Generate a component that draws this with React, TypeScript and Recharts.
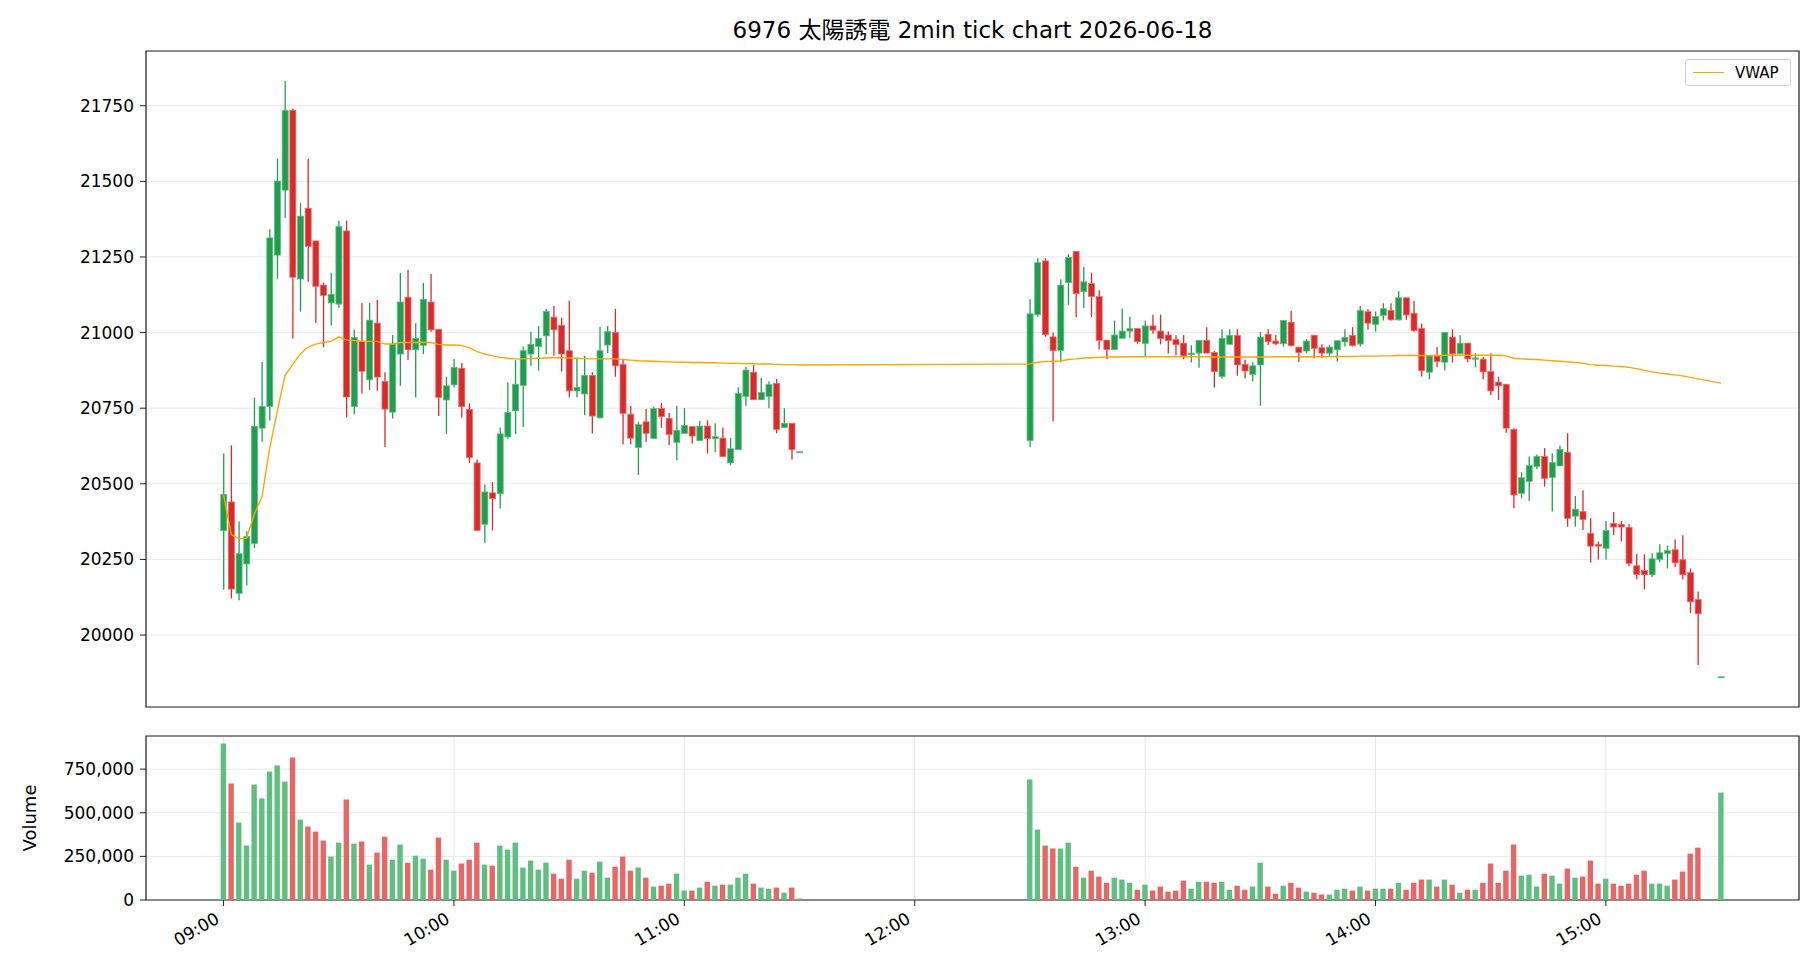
import {
  Bar,
  CartesianGrid,
  Cell,
  ComposedChart,
  Line,
  ReferenceArea,
  XAxis,
  YAxis,
} from "recharts";

const FONT = '"DejaVu Sans", "Noto Sans CJK JP", sans-serif';
const UP = "#1f9e4f";
const UP_EDGE = "#5cbd7d";
const DOWN = "#dc2a2a";
const DOWN_EDGE = "#e86a6a";
const VOL_UP = "#5ebf80";
const VOL_DOWN = "#e86666";
const GRID = "#e8e8e8";

const TITLE = "6976 太陽誘電 2min tick chart 2026-06-18";

// 2-minute slots that traded (morning session, afternoon session, closing print)
const times = [
  "09:00", "09:02", "09:04", "09:06", "09:08", "09:10", "09:12", "09:14", "09:16", "09:18",
  "09:20", "09:22", "09:24", "09:26", "09:28", "09:30", "09:32", "09:34", "09:36", "09:38",
  "09:40", "09:42", "09:44", "09:46", "09:48", "09:50", "09:52", "09:54", "09:56", "09:58",
  "10:00", "10:02", "10:04", "10:06", "10:08", "10:10", "10:12", "10:14", "10:16", "10:18",
  "10:20", "10:22", "10:24", "10:26", "10:28", "10:30", "10:32", "10:34", "10:36", "10:38",
  "10:40", "10:42", "10:44", "10:46", "10:48", "10:50", "10:52", "10:54", "10:56", "10:58",
  "11:00", "11:02", "11:04", "11:06", "11:08", "11:10", "11:12", "11:14", "11:16", "11:18",
  "11:20", "11:22", "11:24", "11:26", "11:28", "11:30",
  "12:30", "12:32", "12:34", "12:36", "12:38", "12:40", "12:42", "12:44", "12:46", "12:48",
  "12:50", "12:52", "12:54", "12:56", "12:58", "13:00", "13:02", "13:04", "13:06", "13:08",
  "13:10", "13:12", "13:14", "13:16", "13:18", "13:20", "13:22", "13:24", "13:26", "13:28",
  "13:30", "13:32", "13:34", "13:36", "13:38", "13:40", "13:42", "13:44", "13:46", "13:48",
  "13:50", "13:52", "13:54", "13:56", "13:58", "14:00", "14:02", "14:04", "14:06", "14:08",
  "14:10", "14:12", "14:14", "14:16", "14:18", "14:20", "14:22", "14:24", "14:26", "14:28",
  "14:30", "14:32", "14:34", "14:36", "14:38", "14:40", "14:42", "14:44", "14:46", "14:48",
  "14:50", "14:52", "14:54", "14:56", "14:58", "15:00", "15:02", "15:04", "15:06", "15:08",
  "15:10", "15:12", "15:14", "15:16", "15:18", "15:20", "15:22", "15:24",
  "15:30",
];

const opens = [
  20345, 20440, 20138, 20235, 20303, 20684, 20756, 21256, 21471, 21735,
  21177, 21411, 21303, 21157, 21098, 21094, 21336, 20756, 20971, 20844,
  21031, 20838, 20737, 20929, 21117, 20943, 20958, 21101, 21011, 20777,
  20827, 20882, 20746, 20569, 20366, 20470, 20467, 20655, 20741, 20825,
  20929, 20954, 20989, 21051, 21024, 20940, 20807, 20797, 20858, 20718,
  20959, 21001, 20895, 20730, 20620, 20705, 20650, 20749, 20716, 20637,
  20667, 20689, 20643, 20691, 20649, 20651, 20569, 20613, 20789, 20869,
  20778, 20789, 20832, 20686, 20700, 20604,
  20643, 21059, 21237, 20986, 20941, 21165, 21268, 21135, 21162, 21119,
  20975, 20944, 20981, 21005, 21013, 20964, 21022, 21005, 20992, 20977,
  20965, 20927, 20932, 20974, 20934, 20855, 20961, 20990, 20895, 20862,
  20893, 20994, 20972, 20963, 21034, 20952, 20939, 20991, 20950, 20932,
  20943, 20969, 20990, 20962, 21069, 21027, 21057, 21073, 21042, 21115,
  21064, 21013, 20869, 20923, 20902, 20985, 20930, 20965, 20912, 20912,
  20871, 20836, 20829, 20680, 20468, 20508, 20557, 20590, 20521, 20559,
  20604, 20393, 20408, 20336, 20300, 20287, 20369, 20366, 20356, 20229,
  20214, 20199, 20250, 20270, 20282, 20249, 20206, 20117,
  19860,
];

const highs = [
  20600, 20627, 20375, 20343, 20785, 20903, 21342, 21575, 21832, 21740,
  21429, 21575, 21303, 21166, 21197, 21370, 21370, 21009, 21098, 21098,
  21108, 20869, 20992, 21197, 21208, 21031, 21164, 21194, 21011, 20853,
  20913, 20899, 20766, 20580, 20498, 20506, 20686, 20835, 20909, 20954,
  21002, 21022, 21078, 21088, 21049, 21105, 20918, 20923, 20869, 21019,
  21022, 21078, 20909, 20757, 20705, 20747, 20755, 20767, 20734, 20757,
  20750, 20689, 20708, 20710, 20700, 20686, 20652, 20819, 20886, 20893,
  20850, 20838, 20847, 20750, 20700, 20606,
  21110, 21246, 21246, 21000, 21176, 21259, 21268, 21218, 21198, 21140,
  20975, 21040, 21080, 21052, 21014, 21040, 21059, 21059, 21004, 20991,
  20992, 20958, 20974, 21018, 20939, 21011, 21011, 21011, 20910, 20902,
  21002, 21011, 20992, 21042, 21072, 20952, 20979, 20991, 20961, 20958,
  20973, 21011, 21018, 21088, 21077, 21070, 21097, 21097, 21137, 21115,
  21104, 21029, 20923, 20952, 21000, 21011, 20991, 20965, 20932, 20919,
  20932, 20854, 20829, 20684, 20538, 20590, 20597, 20618, 20601, 20627,
  20667, 20460, 20479, 20386, 20309, 20377, 20407, 20377, 20367, 20268,
  20267, 20270, 20300, 20296, 20316, 20330, 20220, 20144,
  19862,
];

const lows = [
  20150, 20121, 20115, 20164, 20288, 20639, 20709, 21178, 21379, 20980,
  21069, 21168, 21032, 20951, 21023, 21081, 20719, 20730, 20798, 20810,
  20808, 20622, 20716, 20824, 20909, 20785, 20929, 21003, 20724, 20664,
  20818, 20718, 20569, 20344, 20305, 20346, 20418, 20649, 20664, 20688,
  20890, 20874, 20929, 20923, 20871, 20786, 20786, 20727, 20666, 20716,
  20932, 20854, 20631, 20631, 20529, 20638, 20650, 20685, 20628, 20578,
  20665, 20633, 20641, 20600, 20604, 20589, 20561, 20613, 20758, 20778,
  20778, 20750, 20667, 20686, 20580, 20604,
  20621, 21052, 20986, 20707, 20902, 21091, 21051, 21081, 21051, 20944,
  20913, 20944, 20981, 20983, 20963, 20922, 20996, 20961, 20931, 20925,
  20912, 20901, 20884, 20932, 20818, 20848, 20961, 20857, 20848, 20838,
  20758, 20959, 20959, 20954, 20954, 20903, 20932, 20915, 20915, 20923,
  20904, 20954, 20954, 20954, 21009, 21003, 21040, 21040, 21040, 21042,
  21003, 20855, 20846, 20885, 20875, 20901, 20930, 20902, 20885, 20846,
  20794, 20777, 20669, 20419, 20452, 20444, 20549, 20491, 20408, 20559,
  20358, 20358, 20347, 20239, 20250, 20250, 20331, 20309, 20228, 20184,
  20151, 20192, 20241, 20220, 20225, 20184, 20072, 19901,
  19860,
];

const closes = [
  20465, 20152, 20269, 20326, 20690, 20756, 21313, 21501, 21735, 21183,
  21385, 21285, 21153, 21123, 21126, 21350, 20787, 20984, 20872, 21041,
  20853, 20747, 20962, 21101, 20943, 20981, 21110, 21009, 20786, 20824,
  20885, 20755, 20587, 20346, 20473, 20451, 20665, 20736, 20829, 20940,
  20961, 20981, 21070, 21009, 20929, 20807, 20819, 20858, 20724, 20940,
  21003, 20890, 20733, 20651, 20696, 20667, 20749, 20722, 20663, 20677,
  20693, 20658, 20691, 20649, 20656, 20590, 20616, 20799, 20876, 20778,
  20802, 20828, 20680, 20700, 20613, 20606,
  21062, 21231, 20993, 20940, 21157, 21248, 21129, 21168, 21119, 20974,
  20944, 20992, 21005, 21013, 20970, 21022, 21008, 20980, 20973, 20960,
  20923, 20932, 20974, 20932, 20871, 20981, 20990, 20893, 20873, 20890,
  20985, 20970, 20963, 21040, 20957, 20934, 20972, 20948, 20932, 20952,
  20973, 20984, 20957, 21073, 21031, 21053, 21079, 21042, 21115, 21058,
  21007, 20874, 20923, 20904, 21000, 20930, 20965, 20913, 20916, 20870,
  20807, 20824, 20684, 20463, 20520, 20560, 20590, 20518, 20570, 20614,
  20386, 20416, 20382, 20294, 20294, 20346, 20357, 20357, 20237, 20200,
  20199, 20252, 20272, 20279, 20239, 20199, 20110, 20070,
  19862,
];

const volumes = [
  897000, 668000, 444000, 312000, 662000, 582000, 737000, 771000, 679000, 817000,
  461000, 421000, 392000, 341000, 249000, 329000, 576000, 323000, 335000, 203000,
  272000, 363000, 231000, 318000, 214000, 254000, 237000, 174000, 358000, 231000,
  168000, 209000, 231000, 329000, 203000, 197000, 312000, 289000, 329000, 186000,
  226000, 174000, 214000, 151000, 122000, 231000, 122000, 168000, 157000, 220000,
  128000, 191000, 249000, 168000, 186000, 128000, 77000, 82000, 94000, 151000,
  54000, 54000, 71000, 105000, 82000, 88000, 88000, 128000, 151000, 94000,
  71000, 65000, 71000, 42000, 71000, 8000,
  691000, 404000, 312000, 295000, 295000, 329000, 191000, 128000, 168000, 134000,
  99000, 128000, 117000, 99000, 59000, 88000, 54000, 77000, 48000, 54000,
  111000, 65000, 105000, 105000, 99000, 105000, 59000, 82000, 59000, 77000,
  214000, 77000, 36000, 82000, 99000, 71000, 48000, 42000, 31000, 31000,
  59000, 65000, 54000, 77000, 54000, 65000, 65000, 65000, 99000, 59000,
  99000, 117000, 117000, 77000, 117000, 88000, 42000, 59000, 59000, 99000,
  209000, 99000, 168000, 318000, 140000, 145000, 77000, 151000, 140000, 94000,
  180000, 128000, 134000, 226000, 94000, 122000, 94000, 82000, 94000, 145000,
  168000, 94000, 94000, 82000, 117000, 163000, 266000, 300000,
  616000,
];

const vwap = [
  20463, 20332, 20318, 20320, 20400, 20457, 20616, 20741, 20858, 20895,
  20929, 20952, 20962, 20967, 20971, 20986, 20975, 20974, 20971, 20971,
  20971, 20962, 20962, 20967, 20967, 20967, 20968, 20967, 20961, 20959,
  20959, 20957, 20950, 20937, 20929, 20923, 20918, 20915, 20913, 20913,
  20914, 20915, 20916, 20917, 20917, 20916, 20915, 20914, 20913, 20913,
  20913, 20913, 20911, 20909, 20907, 20906, 20905, 20904, 20903, 20902,
  20902, 20901, 20901, 20900, 20900, 20899, 20898, 20898, 20897, 20897,
  20896, 20896, 20895, 20894, 20894, 20893,
  20896, 20902, 20904, 20905, 20906, 20911, 20913, 20916, 20917, 20918,
  20919, 20919, 20919, 20920, 20920, 20920, 20920, 20920, 20920, 20920,
  20920, 20920, 20920, 20920, 20919, 20919, 20919, 20919, 20919, 20919,
  20919, 20919, 20920, 20920, 20920, 20920, 20920, 20920, 20920, 20921,
  20921, 20921, 20921, 20922, 20922, 20922, 20923, 20923, 20924, 20924,
  20924, 20924, 20924, 20924, 20925, 20925, 20925, 20925, 20925, 20925,
  20925, 20925, 20923, 20915, 20913, 20912, 20911, 20909, 20907, 20905,
  20903, 20901, 20899, 20894, 20892, 20891, 20889, 20888, 20885, 20881,
  20875, 20870, 20866, 20863, 20860, 20857, 20852, 20847,
  20833,
];

const hourLabels = ["09:00", "10:00", "11:00", "12:00", "13:00", "14:00", "15:00"];
const priceTicks = [20000, 20250, 20500, 20750, 21000, 21250, 21500, 21750];
const volumeTicks = [0, 250000, 500000, 750000];

const toMin = (s: string) => {
  const [h, m] = s.split(":").map(Number);
  return h * 60 + m;
};

const hourTicks = hourLabels.map(toMin);
const X_DOMAIN: [number, number] = [519.8, 950.3];
const PRICE_DOMAIN: [number, number] = [19762, 21931];
const VOL_DOMAIN: [number, number] = [0, 940000];

const data = times.map((time, i) => ({
  time,
  t: toMin(time),
  o: opens[i],
  h: highs[i],
  l: lows[i],
  c: closes[i],
  v: volumes[i],
  vwap: vwap[i],
}));

function Candle(props: any) {
  const { x, y, width, height, payload } = props;
  if (x == null || y == null || !payload) return null;
  const top = Math.min(y, y + height);
  const span = Math.abs(height);
  const { o, h, l, c } = payload;
  const k = h - l > 0 ? span / (h - l) : 0;
  const py = (v: number) => top + (h - v) * k;
  const up = c >= o;
  const cx = x + width / 2;
  const bodyTop = py(Math.max(o, c));
  const bodyH = Math.max(py(Math.min(o, c)) - bodyTop, 1);
  return (
    <g>
      <line x1={cx} x2={cx} y1={top} y2={top + Math.max(span, 1)} stroke={up ? UP : DOWN} strokeWidth={1.3} />
      <rect
        x={x}
        y={bodyTop}
        width={width}
        height={bodyH}
        fill={up ? UP : DOWN}
        stroke={up ? UP_EDGE : DOWN_EDGE}
        strokeWidth={0.8}
      />
    </g>
  );
}

function TimeTick(props: any) {
  const { x, y, payload } = props;
  const label = hourLabels[hourTicks.indexOf(payload.value)] ?? "";
  return (
    <g transform={`translate(${x - 3},${y + 14})`}>
      <text textAnchor="end" transform="rotate(-30)" fontSize={17} fill="#000" fontFamily={FONT}>
        {label}
      </text>
    </g>
  );
}

const tickStyle = { fontSize: 17, fill: "#000", fontFamily: FONT };

export default function App() {
  return (
    <div
      style={{
        position: "absolute",
        left: 0,
        top: 0,
        width: 1820,
        height: 980,
        background: "#fff",
        fontFamily: FONT,
        overflow: "hidden",
      }}
    >
      <div
        style={{
          position: "absolute",
          left: 146,
          width: 1653,
          top: 16,
          textAlign: "center",
          fontSize: 23,
          lineHeight: "28px",
          color: "#000",
        }}
      >
        {TITLE}
      </div>

      <div style={{ position: "absolute", left: 0, top: 0 }}>
        <ComposedChart width={1820} height={720} data={data} margin={{ top: 51, right: 21, bottom: 0, left: 0 }}>
          <CartesianGrid stroke={GRID} />
          <XAxis
            type="number"
            dataKey="t"
            domain={X_DOMAIN}
            ticks={hourTicks}
            allowDataOverflow
            height={13}
            tick={false}
            tickSize={6}
            tickLine={{ stroke: "#222" }}
            axisLine={false}
          />
          <YAxis
            domain={PRICE_DOMAIN}
            ticks={priceTicks}
            allowDataOverflow
            width={146}
            tick={tickStyle}
            tickSize={6}
            tickMargin={6}
            tickLine={{ stroke: "#222" }}
            axisLine={false}
          />
          <Bar dataKey={(d: any) => [d.l, d.h]} shape={Candle} barSize={6} isAnimationActive={false} />
          <Line
            type="linear"
            dataKey="vwap"
            stroke="#ffa500"
            strokeWidth={1.4}
            dot={false}
            isAnimationActive={false}
          />
          <ReferenceArea
            x1={X_DOMAIN[0]}
            x2={X_DOMAIN[1]}
            y1={PRICE_DOMAIN[0]}
            y2={PRICE_DOMAIN[1]}
            fill="none"
            stroke="#222"
            strokeWidth={1.2}
          />
        </ComposedChart>
      </div>

      <div
        style={{
          position: "absolute",
          left: 1685,
          top: 59,
          width: 104,
          height: 25,
          border: "1px solid #d0d0d0",
          borderRadius: 3,
          background: "rgba(255,255,255,0.8)",
          display: "flex",
          alignItems: "center",
          fontSize: 15,
          color: "#000",
        }}
      >
        <div style={{ marginLeft: 7, width: 31, height: 1.5, background: "#ffa500" }} />
        <span style={{ marginLeft: 11 }}>VWAP</span>
      </div>

      <div style={{ position: "absolute", left: 0, top: 700 }}>
        <ComposedChart width={1820} height={280} data={data} margin={{ top: 36, right: 21, bottom: 0, left: 0 }}>
          <CartesianGrid stroke={GRID} />
          <XAxis
            type="number"
            dataKey="t"
            domain={X_DOMAIN}
            ticks={hourTicks}
            allowDataOverflow
            height={80}
            tick={<TimeTick />}
            tickSize={6}
            tickLine={{ stroke: "#222" }}
            axisLine={false}
          />
          <YAxis
            domain={VOL_DOMAIN}
            ticks={volumeTicks}
            allowDataOverflow
            width={146}
            tick={tickStyle}
            tickSize={6}
            tickMargin={6}
            tickLine={{ stroke: "#222" }}
            axisLine={false}
            tickFormatter={(v: number) => v.toLocaleString("en-US")}
            label={{
              content: (p: any) => {
                const vb = p.viewBox || { y: 36, height: 164 };
                const cy = vb.y + vb.height / 2;
                return (
                  <text
                    x={29}
                    y={cy}
                    transform={`rotate(-90 29 ${cy})`}
                    textAnchor="middle"
                    dominantBaseline="central"
                    fontSize={18}
                    fill="#000"
                    fontFamily={FONT}
                  >
                    Volume
                  </text>
                );
              },
            }}
          />
          <Bar dataKey="v" barSize={5.4} isAnimationActive={false}>
            {data.map((d) => (
              <Cell key={d.time} fill={d.c >= d.o ? VOL_UP : VOL_DOWN} />
            ))}
          </Bar>
          <ReferenceArea
            x1={X_DOMAIN[0]}
            x2={X_DOMAIN[1]}
            y1={VOL_DOMAIN[0]}
            y2={VOL_DOMAIN[1]}
            fill="none"
            stroke="#222"
            strokeWidth={1.2}
          />
        </ComposedChart>
      </div>
    </div>
  );
}
